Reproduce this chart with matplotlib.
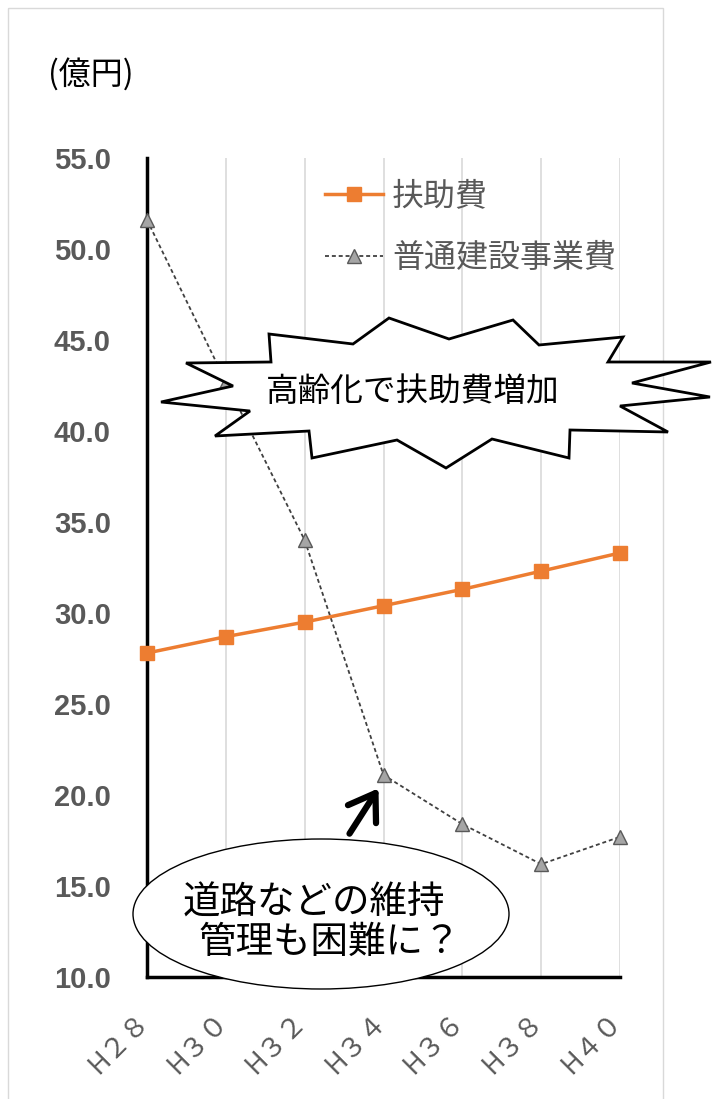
import matplotlib
matplotlib.use("Agg")
import matplotlib.pyplot as plt
from matplotlib.patches import Polygon, Ellipse, Rectangle, FancyArrowPatch
from matplotlib.lines import Line2D
import matplotlib.transforms as mtransforms

# ---- data ----
categories = ["H２８", "H３０", "H３２", "H３４", "H３６", "H３８", "H４０"]
fujo = [27.8, 28.7, 29.5, 30.4, 31.3, 32.3, 33.3]          # 扶助費
kensetsu = [51.6, 42.7, 34.0, 21.1, 18.4, 16.2, 17.7]      # 普通建設事業費
yticks = [10.0, 15.0, 20.0, 25.0, 30.0, 35.0, 40.0, 45.0, 50.0, 55.0]
series_names = ["扶助費", "普通建設事業費"]

CJK = ["Noto Sans CJK JP", "DejaVu Sans"]
plt.rcParams["font.family"] = CJK

W, H = 712, 1099
fig = plt.figure(figsize=(W / 100, H / 100), dpi=100)
fig.patch.set_facecolor("white")

L, R, T, B = 147, 620, 158, 977
ax = fig.add_axes([L / W, 1 - B / H, (R - L) / W, (B - T) / H])
x = list(range(len(categories)))

ax.plot(x, kensetsu, color="#404040", lw=1.3, linestyle=(0, (2.2, 1.6)),
        marker="^", markersize=10, markerfacecolor="#A5A5A5",
        markeredgecolor="#595959", markeredgewidth=1, zorder=3,
        label=series_names[1], clip_on=False)
ax.plot(x, fujo, color="#ED7D31", lw=2.5, marker="s", markersize=10,
        markerfacecolor="#ED7D31", markeredgecolor="#ED7D31", zorder=4,
        label=series_names[0], clip_on=False)

ax.set_xlim(0, len(categories) - 1)
ax.set_ylim(10, 55)
ax.set_yticks(yticks)
ax.set_yticklabels([f"{v:.1f}" for v in yticks], family="Liberation Sans",
                   fontweight="bold", fontsize=21, color="#595959")
ax.tick_params(axis="y", length=0, pad=26)

# x category labels, rotated 45 degrees
ax.set_xticks(x)
ax.set_xticklabels([])
ax.tick_params(axis="x", length=0)
lab_tf = ax.get_xaxis_transform() + mtransforms.ScaledTranslation(-2 / 100, -40 / 100, fig.dpi_scale_trans)
for xi, lab in zip(x, categories):
    ax.text(xi, 0, lab, transform=lab_tf, rotation=45, rotation_mode="anchor",
            ha="right", va="center", fontsize=19.5, color="#595959", clip_on=False)

ax.grid(axis="x", color="#D9D9D9", lw=1.2)
ax.grid(axis="y", visible=False)
ax.set_axisbelow(True)
for s in ["top", "right"]:
    ax.spines[s].set_visible(False)
for s in ["left", "bottom"]:
    ax.spines[s].set_linewidth(2.5)
    ax.spines[s].set_color("black")

# legend
h1 = Line2D([], [], color="#ED7D31", lw=2.5, marker="s", markersize=10)
h2 = Line2D([], [], color="#404040", lw=1.3, linestyle=(0, (2.2, 1.6)),
            marker="^", markersize=10, markerfacecolor="#A5A5A5",
            markeredgecolor="#595959")
leg = fig.legend([h1, h2], series_names, loc="upper left",
                 bbox_to_anchor=(325 / W, 1 - 180 / H), frameon=False,
                 fontsize=23, handlelength=1.8, handletextpad=0.3,
                 labelspacing=0.95, borderpad=0, borderaxespad=0)
for t in leg.get_texts():
    t.set_color("#595959")

# overlay in pixel coords
ov = fig.add_axes([0, 0, 1, 1], zorder=10)
ov.set_xlim(0, W)
ov.set_ylim(H, 0)
ov.axis("off")
ov.patch.set_alpha(0)

ov.add_patch(Rectangle((7.5, 7.5), 655, 1200, fill=False, ec="#D9D9D9", lw=1))

ov.text(48, 74, "(億円)", fontsize=23, color="black", va="center", ha="left")

burst = [(269, 334), (271, 362), (186, 363), (233, 386), (161, 402), (250, 411),
         (215, 436), (309, 431), (312, 458), (397, 440), (446, 468), (492, 439),
         (569, 458), (570, 430), (668, 432), (620, 406), (710, 397), (632, 383),
         (711, 362), (608, 362), (623, 337), (539, 345), (513, 320), (449, 339),
         (389, 318), (353, 344)]
ov.add_patch(Polygon(burst, closed=True, fc="white", ec="black", lw=2))
ov.text(413, 392, "高齢化で扶助費増加", fontsize=23.5, color="black",
        ha="center", va="center")

ov.add_patch(Ellipse((321, 914), 376, 150, fc="white", ec="black", lw=1))
ov.text(314, 903, "道路などの維持", fontsize=27, ha="center", va="center")
ov.text(330, 942, "管理も困難に？", fontsize=27, ha="center", va="center")

ov.add_patch(FancyArrowPatch((348, 836), (380, 786),
                             arrowstyle="->,head_length=0.9,head_width=0.6",
                             lw=4.5, color="black", mutation_scale=20))

fig.savefig("out.png", dpi=100)
